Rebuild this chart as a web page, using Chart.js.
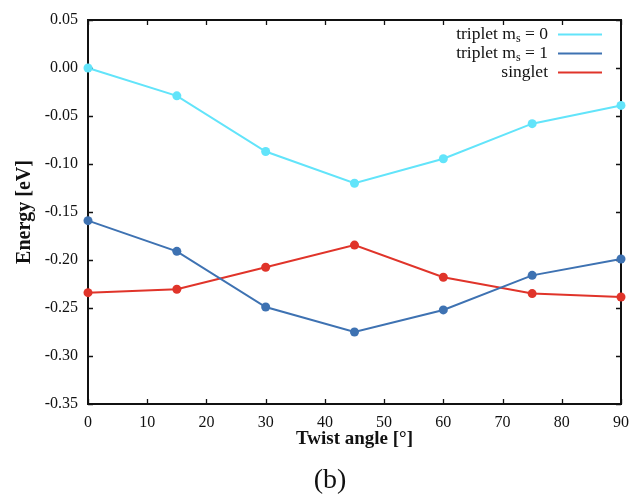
<!DOCTYPE html>
<html><head><meta charset="utf-8">
<script src="https://cdn.jsdelivr.net/npm/chart.js@4"></script>
<style>html,body{margin:0;padding:0;background:#fff}#wrap{width:633px;height:494px}</style>
</head><body><div id="wrap"><canvas id="c" width="633" height="494"></canvas></div>
<script>
const angles = [0, 15, 30, 45, 60, 75, 90];
const tripletMs0 = [0.000, -0.029, -0.087, -0.120, -0.0945, -0.058, -0.039];
const tripletMs1 = [-0.159, -0.191, -0.249, -0.275, -0.252, -0.216, -0.199];
const singlet = [-0.234, -0.2305, -0.2075, -0.1845, -0.218, -0.235, -0.2385];
const seriesNames = ['triplet m|s| = 0', 'triplet m|s| = 1', 'singlet'];
const xTitle = 'Twist angle [°]';
const yTitle = 'Energy [eV]';
const panelLabel = '(b)';
const colors = ['#62e4fa', '#3e72b2', '#e0342a'];

const FONT = "'Liberation Serif', 'Times New Roman', serif";
const pts = (ys) => angles.map((a, i) => ({x: a, y: ys[i]}));

function mkDs(label, data, color) {
  return {label, data: pts(data), borderColor: color, backgroundColor: color,
    borderWidth: 2, pointRadius: 4.5, pointHoverRadius: 4.5, pointBorderWidth: 0, tension: 0, clip: false};
}

const framePlugin = {
  id: 'frame',
  beforeDatasetsDraw(chart) {
    const {ctx, chartArea: a, scales} = chart;
    const xs = scales.x, ys = scales.y;
    ctx.save();
    ctx.strokeStyle = '#111';
    ctx.lineWidth = 1.3;
    const tl = 5;
    ctx.beginPath();
    xs.ticks.forEach(t => {
      const px = Math.round(xs.getPixelForValue(t.value)) + 0.5;
      ctx.moveTo(px, a.bottom); ctx.lineTo(px, a.bottom - tl);
      ctx.moveTo(px, a.top); ctx.lineTo(px, a.top + tl);
    });
    ys.ticks.forEach(t => {
      const py = Math.round(ys.getPixelForValue(t.value)) + 0.5;
      ctx.moveTo(a.left, py); ctx.lineTo(a.left + tl, py);
      ctx.moveTo(a.right, py); ctx.lineTo(a.right - tl, py);
    });
    ctx.stroke();
    ctx.lineWidth = 2;
    ctx.strokeRect(a.left, a.top, a.right - a.left, a.bottom - a.top);

    // legend
    const fs = 17.5;
    const lineX1 = a.right - 63, lineX2 = a.right - 19;
    const textRight = lineX1 - 10;
    seriesNames.forEach((name, i) => {
      const y = a.top + 14.5 + i * 19;
      const parts = name.split('|');
      ctx.textBaseline = 'middle';
      ctx.fillStyle = '#111';
      const mainFont = fs + 'px ' + FONT, subFont = Math.round(fs * 0.7) + 'px ' + FONT;
      const widths = parts.map((p, k) => { ctx.font = (k === 1 ? subFont : mainFont); return ctx.measureText(p).width; });
      let x = textRight - widths.reduce((s, w) => s + w, 0);
      parts.forEach((p, k) => {
        ctx.font = (k === 1 ? subFont : mainFont);
        ctx.textAlign = 'left';
        ctx.fillText(p, x, k === 1 ? y + 4 : y);
        x += widths[k];
      });
      ctx.strokeStyle = colors[i];
      ctx.lineWidth = 2;
      ctx.beginPath(); ctx.moveTo(lineX1, y); ctx.lineTo(lineX2, y); ctx.stroke();
    });

    // panel label
    ctx.font = '28px ' + FONT;
    ctx.fillStyle = '#111';
    ctx.textAlign = 'center';
    ctx.textBaseline = 'middle';
    ctx.fillText(panelLabel, 330, 481);
    ctx.restore();
  }
};

new Chart(document.getElementById('c'), {
  type: 'line',
  data: {datasets: [
    mkDs(seriesNames[0], tripletMs0, colors[0]),
    mkDs(seriesNames[1], tripletMs1, colors[1]),
    mkDs(seriesNames[2], singlet, colors[2])
  ]},
  options: {
    responsive: false, animation: false, devicePixelRatio: 1,
    layout: {padding: {left: 0, right: 12, top: 20, bottom: 0}},
    plugins: {legend: {display: false}, tooltip: {enabled: false}},
    scales: {
      x: {type: 'linear', min: 0, max: 90,
        ticks: {stepSize: 10, color: '#111', font: {family: FONT, size: 16}, padding: 9, maxRotation: 0},
        grid: {display: false, drawTicks: false},
        border: {display: false},
        title: {display: true, text: xTitle, color: '#111', font: {family: FONT, size: 19, weight: 'bold'}, padding: {top: 0, bottom: 44}},
        afterFit(s) { s.height = 90; s.paddingLeft = 0; s.paddingRight = 0; }
      },
      y: {min: -0.35, max: 0.05,
        ticks: {stepSize: 0.05, color: '#111', font: {family: FONT, size: 16}, padding: 10,
          callback: v => v.toFixed(2)},
        grid: {display: false, drawTicks: false},
        border: {display: false},
        title: {display: true, text: yTitle, color: '#111', font: {family: FONT, size: 20, weight: 'bold'}, padding: {top: 13, bottom: 0}},
        afterFit(s) { s.width = 88; s.paddingTop = 0; s.paddingBottom = 0; }
      }
    }
  },
  plugins: [framePlugin]
});
</script></body></html>
